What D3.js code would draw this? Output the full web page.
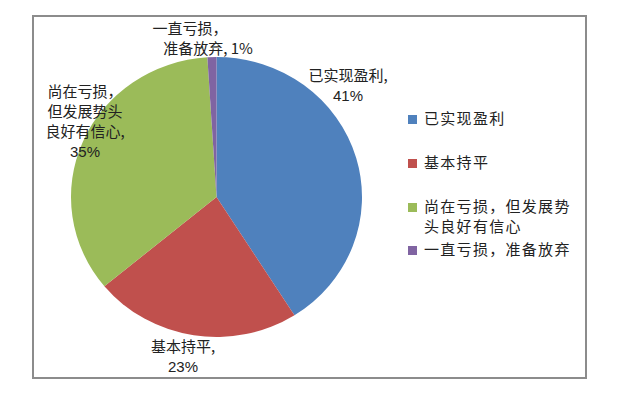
<!DOCTYPE html>
<html>
<head>
<meta charset="utf-8">
<script src="https://d3js.org/d3.v7.min.js"></script>
<style>
  body { margin: 0; background: #fff; }
  text { font-family: "Noto Sans CJK SC", "Liberation Sans", sans-serif; fill: #222; }
  .num { font-family: "Liberation Sans", Arial, sans-serif; }
</style>
</head>
<body>
<div id="chart"></div>
<script>
// chart data
const categories = ["已实现盈利", "基本持平", "尚在亏损，但发展势头良好有信心", "一直亏损，准备放弃"];
const values = [41, 23, 35, 1];
const colors = ["#4F81BD", "#C0504D", "#9BBB59", "#8064A2"];

// data label lines (text) and legend lines
const labelLines = [
  ["已实现盈利,", "41%"],
  ["基本持平,", "23%"],
  ["尚在亏损，", "但发展势头", "良好有信心,", "35%"],
  ["一直亏损，", "准备放弃, 1%"]
];
const legendLines = [
  ["已实现盈利"],
  ["基本持平"],
  ["尚在亏损，但发展势", "头良好有信心"],
  ["一直亏损，准备放弃"]
];

const width = 618, height = 395;
const svg = d3.select("#chart").append("svg")
  .attr("width", width).attr("height", height);

// chart border
svg.append("rect")
  .attr("x", 33).attr("y", 16)
  .attr("width", 553).attr("height", 362)
  .attr("fill", "none").attr("stroke", "#8c8c8c").attr("stroke-width", 2);

const cx = 216.5, cy = 197, r = 140;
const pie = d3.pie().sort(null).value(d => d)(values);
const arc = d3.arc().innerRadius(0).outerRadius(r);

const g = svg.append("g")
  .attr("transform", `translate(${cx},${cy}) scale(${145.5 / r},1)`);
g.selectAll("path").data(pie).join("path")
  .attr("d", arc)
  .attr("fill", (d, i) => colors[i]);

// data labels (placed like Excel's best fit)
const labelPos = [
  { x: 348, y: 81 },
  { x: 183, y: 352 },
  { x: 85, y: 97 },
  { x: 208, y: 34 }
];
const lineH = 20;
labelLines.forEach((lines, i) => {
  const t = svg.append("text")
    .attr("text-anchor", "middle")
    .attr("font-size", 15);
  lines.forEach((ln, j) => {
    t.append("tspan")
      .attr("x", labelPos[i].x + (i === 3 && j === 0 ? -18 : 0))
      .attr("y", labelPos[i].y + j * lineH)
      .attr("class", /^\d/.test(ln) ? "num" : null)
      .text(ln);
  });
});

// legend
const legendRows = [124, 168, 212, 255];
const legend = svg.append("g");
categories.forEach((c, i) => {
  const y = legendRows[i];
  legend.append("rect")
    .attr("x", 408).attr("y", y - 9)
    .attr("width", 9).attr("height", 9)
    .attr("fill", colors[i]);
  const t = legend.append("text")
    .attr("font-size", 15)
    .attr("letter-spacing", 1.3);
  legendLines[i].forEach((ln, j) => {
    t.append("tspan").attr("x", 424).attr("y", y + j * 20).text(ln);
  });
});
</script>
</body>
</html>
